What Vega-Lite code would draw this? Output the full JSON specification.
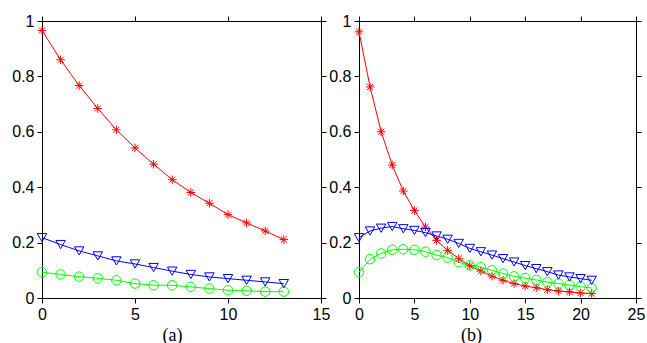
{
  "$schema": "https://vega.github.io/schema/vega-lite/v6.json",
  "background": "white",
  "padding": {"left": 11, "top": 12, "right": 2, "bottom": 2},
  "bounds": "flush",
  "spacing": 38,
  "datasets": {
    "d": [
      {"p":"a","t":0,"Pursuer 1":0.966,"Pursuer 2":0.093,"Pursuer 3":0.218},
      {"p":"a","t":1,"Pursuer 1":0.860,"Pursuer 2":0.085,"Pursuer 3":0.193},
      {"p":"a","t":2,"Pursuer 1":0.767,"Pursuer 2":0.077,"Pursuer 3":0.170},
      {"p":"a","t":3,"Pursuer 1":0.684,"Pursuer 2":0.071,"Pursuer 3":0.152},
      {"p":"a","t":4,"Pursuer 1":0.607,"Pursuer 2":0.064,"Pursuer 3":0.134},
      {"p":"a","t":5,"Pursuer 1":0.542,"Pursuer 2":0.052,"Pursuer 3":0.123},
      {"p":"a","t":6,"Pursuer 1":0.483,"Pursuer 2":0.046,"Pursuer 3":0.110},
      {"p":"a","t":7,"Pursuer 1":0.427,"Pursuer 2":0.046,"Pursuer 3":0.097},
      {"p":"a","t":8,"Pursuer 1":0.381,"Pursuer 2":0.040,"Pursuer 3":0.085},
      {"p":"a","t":9,"Pursuer 1":0.342,"Pursuer 2":0.034,"Pursuer 3":0.076},
      {"p":"a","t":10,"Pursuer 1":0.301,"Pursuer 2":0.028,"Pursuer 3":0.070},
      {"p":"a","t":11,"Pursuer 1":0.271,"Pursuer 2":0.026,"Pursuer 3":0.064},
      {"p":"a","t":12,"Pursuer 1":0.242,"Pursuer 2":0.023,"Pursuer 3":0.058},
      {"p":"a","t":13,"Pursuer 1":0.211,"Pursuer 2":0.023,"Pursuer 3":0.052},
      {"p":"b","t":0,"Pursuer 1":0.961,"Pursuer 2":0.093,"Pursuer 3":0.218},
      {"p":"b","t":1,"Pursuer 1":0.762,"Pursuer 2":0.140,"Pursuer 3":0.242},
      {"p":"b","t":2,"Pursuer 1":0.600,"Pursuer 2":0.161,"Pursuer 3":0.252},
      {"p":"b","t":3,"Pursuer 1":0.480,"Pursuer 2":0.174,"Pursuer 3":0.258},
      {"p":"b","t":4,"Pursuer 1":0.386,"Pursuer 2":0.176,"Pursuer 3":0.250},
      {"p":"b","t":5,"Pursuer 1":0.316,"Pursuer 2":0.174,"Pursuer 3":0.244},
      {"p":"b","t":6,"Pursuer 1":0.256,"Pursuer 2":0.167,"Pursuer 3":0.236},
      {"p":"b","t":7,"Pursuer 1":0.208,"Pursuer 2":0.155,"Pursuer 3":0.224},
      {"p":"b","t":8,"Pursuer 1":0.172,"Pursuer 2":0.146,"Pursuer 3":0.212},
      {"p":"b","t":9,"Pursuer 1":0.142,"Pursuer 2":0.129,"Pursuer 3":0.197},
      {"p":"b","t":10,"Pursuer 1":0.116,"Pursuer 2":0.118,"Pursuer 3":0.179},
      {"p":"b","t":11,"Pursuer 1":0.097,"Pursuer 2":0.111,"Pursuer 3":0.167},
      {"p":"b","t":12,"Pursuer 1":0.079,"Pursuer 2":0.100,"Pursuer 3":0.155},
      {"p":"b","t":13,"Pursuer 1":0.064,"Pursuer 2":0.088,"Pursuer 3":0.142},
      {"p":"b","t":14,"Pursuer 1":0.052,"Pursuer 2":0.078,"Pursuer 3":0.130},
      {"p":"b","t":15,"Pursuer 1":0.043,"Pursuer 2":0.072,"Pursuer 3":0.117},
      {"p":"b","t":16,"Pursuer 1":0.037,"Pursuer 2":0.065,"Pursuer 3":0.106},
      {"p":"b","t":17,"Pursuer 1":0.030,"Pursuer 2":0.057,"Pursuer 3":0.095},
      {"p":"b","t":18,"Pursuer 1":0.025,"Pursuer 2":0.052,"Pursuer 3":0.083},
      {"p":"b","t":19,"Pursuer 1":0.022,"Pursuer 2":0.047,"Pursuer 3":0.076},
      {"p":"b","t":20,"Pursuer 1":0.018,"Pursuer 2":0.041,"Pursuer 3":0.070},
      {"p":"b","t":21,"Pursuer 1":0.016,"Pursuer 2":0.036,"Pursuer 3":0.064}
    ]
  },
  "data": {"name": "d"},
  "hconcat": [
    {
      "width": 279, "height": 277,
      "transform": [{"filter": "datum.p === 'a'"}, {"fold": ["Pursuer 1", "Pursuer 2", "Pursuer 3"], "as": ["s", "v"]}],
      "layer": [
        {
          "mark": {"type": "line", "strokeWidth": 1},
          "encoding": {
            "x": {"field": "t", "type": "quantitative", "scale": {"domain": [0, 15], "nice": false, "zero": false},
                  "axis": {"orient": "bottom", "values": [0, 5, 10, 15], "title": "(a)", "titleX": 130, "titlePadding": 4}},
            "y": {"field": "v", "type": "quantitative", "scale": {"domain": [0, 1], "nice": false},
                  "axis": {"orient": "left", "values": [0, 0.2, 0.4, 0.6, 0.8, 1], "format": "~g", "title": null}},
            "color": {"field": "s", "type": "nominal", "scale": {"domain": ["Pursuer 1", "Pursuer 2", "Pursuer 3"], "range": ["#ff0000", "#00ff00", "#0000ff"]}, "legend": null}
          }
        },
        {
          "mark": {"type": "point", "filled": false, "strokeWidth": 1, "opacity": 1, "size": 90},
          "encoding": {
            "x": {"field": "t", "type": "quantitative", "axis": {"orient": "top", "values": [0, 5, 10, 15], "labels": false, "title": null}},
            "y": {"field": "v", "type": "quantitative", "axis": {"orient": "right", "values": [0, 0.2, 0.4, 0.6, 0.8, 1], "labels": false, "title": null}},
            "color": {"field": "s", "type": "nominal", "legend": null},
            "shape": {"field": "s", "type": "nominal",
                      "scale": {"domain": ["Pursuer 1", "Pursuer 2", "Pursuer 3"], "range": ["M0,-0.9L0,0.9M-0.9,0L0.9,0M-0.64,-0.64L0.64,0.64M-0.64,0.64L0.64,-0.64", "circle", "triangle-down"]},
                      "legend": {
                        "title": null, "orient": "top-right", "offset": 11,
                        "strokeColor": "black", "fillColor": "white", "padding": 8.5,
                        "labelFont": "Liberation Sans", "labelFontSize": 17, "labelColor": "black",
                        "symbolSize": 4225, "symbolOffset": 5.5, "labelOffset": 13.5, "rowPadding": 9.5,
                        "symbolStrokeWidth": 1
                      }}
          }
        }
      ],
      "resolve": {"axis": {"x": "independent", "y": "independent"}}
    },
    {
      "width": 277, "height": 277,
      "transform": [{"filter": "datum.p === 'b'"}, {"fold": ["Pursuer 1", "Pursuer 2", "Pursuer 3"], "as": ["s", "v"]}],
      "layer": [
        {
          "mark": {"type": "line", "strokeWidth": 1},
          "encoding": {
            "x": {"field": "t", "type": "quantitative", "scale": {"domain": [0, 25], "nice": false, "zero": false},
                  "axis": {"orient": "bottom", "values": [0, 5, 10, 15, 20, 25], "title": "(b)", "titleX": 112, "titlePadding": 4}},
            "y": {"field": "v", "type": "quantitative", "scale": {"domain": [0, 1], "nice": false},
                  "axis": {"orient": "left", "values": [0, 0.2, 0.4, 0.6, 0.8, 1], "format": "~g", "title": null}},
            "color": {"field": "s", "type": "nominal", "scale": {"domain": ["Pursuer 1", "Pursuer 2", "Pursuer 3"], "range": ["#ff0000", "#00ff00", "#0000ff"]}, "legend": null}
          }
        },
        {
          "mark": {"type": "point", "filled": false, "strokeWidth": 1, "opacity": 1, "size": 90},
          "encoding": {
            "x": {"field": "t", "type": "quantitative", "axis": {"orient": "top", "values": [0, 5, 10, 15, 20, 25], "labels": false, "title": null}},
            "y": {"field": "v", "type": "quantitative", "axis": {"orient": "right", "values": [0, 0.2, 0.4, 0.6, 0.8, 1], "labels": false, "title": null}},
            "color": {"field": "s", "type": "nominal", "legend": null},
            "shape": {"field": "s", "type": "nominal",
                      "scale": {"domain": ["Pursuer 1", "Pursuer 2", "Pursuer 3"], "range": ["M0,-0.9L0,0.9M-0.9,0L0.9,0M-0.64,-0.64L0.64,0.64M-0.64,0.64L0.64,-0.64", "circle", "triangle-down"]},
                      "legend": {
                        "title": null, "orient": "top-right", "offset": 10,
                        "strokeColor": "black", "fillColor": "white", "padding": 8.5,
                        "labelFont": "Liberation Sans", "labelFontSize": 17, "labelColor": "black",
                        "symbolSize": 4225, "symbolOffset": 5.5, "labelOffset": 13.5, "rowPadding": 9.5,
                        "symbolStrokeWidth": 1
                      }}
          }
        }
      ],
      "resolve": {"axis": {"x": "independent", "y": "independent"}}
    }
  ],
  "config": {
    "view": {"stroke": "black", "strokeWidth": 1},
    "axis": {
      "grid": false, "domainColor": "black", "domainWidth": 1, "tickColor": "black", "tickWidth": 1,
      "tickSize": 5, "labelPadding": 3, "labelColor": "black", "labelFont": "Liberation Sans", "labelFontSize": 16,
      "labelFlush": false, "labelOverlap": false, "labelBound": false,
      "titleFont": "Liberation Serif", "titleFontSize": 18, "titleFontWeight": "normal", "titleColor": "black"
    }
  }
}
